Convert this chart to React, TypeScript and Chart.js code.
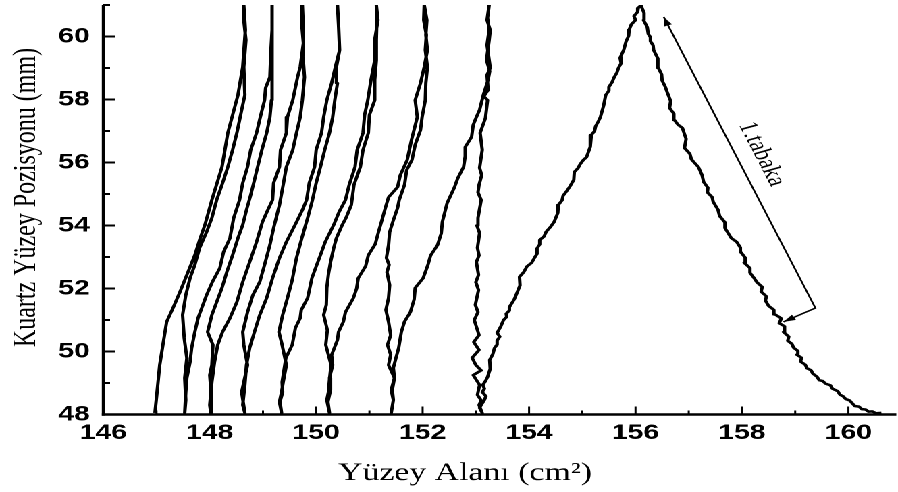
import React, { useEffect, useRef } from 'react';
import { Chart, registerables } from 'chart.js';

Chart.register(...registerables);

// ---- axis setup ----
const xTickValues = [146, 148, 150, 152, 154, 156, 158, 160];
const xMinorTicks = [147, 149, 151, 153, 155, 157, 159];
const yTickValues = [48, 50, 52, 54, 56, 58, 60];
const yMinorTicks = [49, 51, 53, 55, 57, 59, 61];
const xMin = 146;
const xMax = 160.9;
const yMin = 48;
const yMax = 61;

const xTitle = 'Yüzey Alanı (cm²)';
const yTitle = 'Kuartz Yüzey Pozisyonu (mm)';
const noteText = '1.tabaka';
// annotation anchor points, in data units (area, position)
const notePath: [number, number][] = [[156.53, 60.62], [159.38, 51.38], [158.78, 50.94]];
const noteCenter: [number, number] = [158.37, 56.27];

// ---- trace, stroke by stroke (area cm², position mm) ----
const stroke01: [number, number][] = [
  [160.62, 48.05], [160.52, 48.04], [160.45, 48.1], [160.38, 48.09], [160.32, 48.16], [160.25, 48.17],
  [160.2, 48.25], [160.12, 48.27], [160.06, 48.38], [160.02, 48.45], [159.95, 48.49], [159.9, 48.58],
  [159.84, 48.63], [159.8, 48.74], [159.7, 48.82], [159.66, 48.93], [159.57, 48.98], [159.52, 49.06],
  [159.45, 49.09], [159.41, 49.2], [159.33, 49.3], [159.3, 49.4], [159.22, 49.47], [159.19, 49.58],
  [159.1, 49.68], [159.12, 49.8], [159.03, 49.9], [159.05, 50.02], [158.97, 50.12], [158.94, 50.24],
  [158.86, 50.34], [158.88, 50.47], [158.78, 50.62], [158.8, 50.8], [158.7, 50.9], [158.74, 51.05],
  [158.62, 51.18], [158.6, 51.32], [158.5, 51.45], [158.44, 51.62], [158.46, 51.75], [158.36, 51.9],
  [158.38, 52.05], [158.28, 52.2], [158.22, 52.35], [158.15, 52.5], [158.15, 52.65], [158.04, 52.82],
  [158.06, 52.98], [157.98, 53.15], [157.97, 53.3], [157.9, 53.48], [157.8, 53.6], [157.68, 53.92],
  [157.68, 54.1], [157.58, 54.3], [157.55, 54.5], [157.46, 54.75], [157.44, 54.9], [157.35, 55.05],
  [157.36, 55.2], [157.28, 55.38], [157.25, 55.6], [157.18, 55.86], [157.13, 55.95], [157.05, 56.1],
  [157.02, 56.28], [156.92, 56.46], [156.95, 56.75], [156.88, 57.1], [156.8, 57.2], [156.73, 57.35],
  [156.72, 57.55], [156.64, 57.73], [156.66, 57.95], [156.6, 58.21], [156.56, 58.4], [156.5, 58.6],
  [156.49, 58.8], [156.43, 59.0], [156.42, 59.3], [156.34, 59.57], [156.33, 59.72], [156.28, 59.85],
  [156.28, 59.98], [156.24, 60.08], [156.22, 60.3], [156.15, 60.52], [156.16, 60.75], [156.1, 61.0],
];
const stroke02: [number, number][] = [
  [156.1, 61.0], [156.05, 60.9], [156.04, 60.78], [155.97, 60.65], [156.0, 60.52], [155.92, 60.38],
  [155.88, 60.21], [155.87, 60.02], [155.82, 59.83], [155.78, 59.58], [155.71, 59.32], [155.73, 59.15],
  [155.68, 59.0], [155.65, 58.85], [155.6, 58.71], [155.56, 58.55], [155.5, 58.4], [155.5, 58.28],
  [155.44, 58.14], [155.4, 57.8], [155.34, 57.44], [155.3, 57.3], [155.25, 57.15], [155.23, 57.0],
  [155.17, 56.87], [155.15, 56.5], [155.08, 56.17], [155.02, 56.08], [154.96, 55.95], [154.92, 55.82],
  [154.85, 55.7], [154.84, 55.45], [154.76, 55.22], [154.71, 55.1], [154.64, 54.95], [154.62, 54.8],
  [154.55, 54.65], [154.54, 54.4], [154.47, 54.11], [154.4, 53.95], [154.32, 53.8], [154.28, 53.65],
  [154.2, 53.54], [154.2, 53.4], [154.14, 53.25], [154.15, 53.1], [154.1, 52.97], [154.05, 52.82],
  [153.96, 52.7], [153.9, 52.52], [153.82, 52.37], [153.83, 52.1], [153.78, 51.89], [153.72, 51.65],
  [153.63, 51.41], [153.63, 51.3], [153.57, 51.2], [153.58, 51.1], [153.52, 51.0], [153.47, 50.8],
  [153.4, 50.59], [153.45, 50.47], [153.4, 50.35], [153.4, 50.22], [153.35, 50.11], [153.32, 49.92],
  [153.26, 49.73], [153.27, 49.45], [153.22, 49.19], [153.18, 49.06], [153.13, 48.94], [153.16, 48.82],
  [153.12, 48.71], [153.19, 48.58], [153.16, 48.46], [153.1, 48.3], [153.07, 48.21], [153.12, 48.05],
];
const stroke03: [number, number][] = [
  [153.12, 48.05], [153.06, 48.3], [153.1, 48.45], [153.03, 48.62], [153.07, 48.94], [152.95, 49.25],
  [153.1, 49.4], [153.0, 49.57], [152.93, 49.8], [153.06, 50.05], [152.96, 50.3], [153.06, 50.52],
  [152.97, 51.0], [153.04, 51.25], [152.99, 51.48], [153.05, 51.95], [153.0, 52.2], [153.05, 52.43],
  [153.01, 52.84], [153.06, 53.05], [153.03, 53.29], [153.07, 53.76], [153.02, 54.0], [153.04, 54.24],
  [153.1, 54.81], [153.04, 55.05], [153.06, 55.29], [153.11, 55.6], [153.07, 55.83], [153.12, 56.4],
  [153.08, 56.94], [153.18, 57.41], [153.22, 57.98], [153.15, 58.1], [153.23, 58.3], [153.21, 58.78],
  [153.27, 59.0], [153.25, 59.25], [153.21, 59.73], [153.25, 60.21], [153.22, 60.59], [153.25, 61.0],
];
const stroke04: [number, number][] = [
  [153.25, 61.0], [153.21, 60.52], [153.27, 60.2], [153.25, 59.89], [153.2, 59.25], [153.26, 58.9],
  [153.23, 58.62], [153.14, 58.14], [153.07, 57.67], [153.0, 57.4], [152.95, 57.19], [152.92, 56.81],
  [152.8, 56.49], [152.8, 56.2], [152.77, 55.86], [152.66, 55.5], [152.6, 55.22], [152.46, 54.71],
  [152.37, 54.11], [152.35, 53.75], [152.28, 53.38], [152.15, 53.05], [152.1, 52.75], [152.01, 52.33],
  [151.86, 52.02], [151.84, 51.65], [151.77, 51.25], [151.66, 50.95], [151.6, 50.62], [151.55, 50.11],
  [151.5, 49.8], [151.45, 49.48], [151.47, 49.16], [151.41, 48.78], [151.45, 48.46], [151.41, 48.05],
];
const stroke05: [number, number][] = [
  [151.41, 48.05], [151.45, 48.46], [151.43, 48.78], [151.47, 49.16], [151.36, 49.57], [151.4, 49.9],
  [151.34, 50.21], [151.4, 50.52], [151.36, 50.94], [151.31, 51.32], [151.36, 51.7], [151.38, 52.11],
  [151.33, 52.52], [151.37, 52.75], [151.32, 52.97], [151.36, 53.38], [151.38, 53.79], [151.45, 54.17],
  [151.53, 54.56], [151.56, 54.81], [151.66, 55.29], [151.7, 55.76], [151.8, 56.08], [151.86, 56.56],
  [151.96, 57.03], [151.99, 57.44], [152.05, 57.98], [152.06, 58.52], [152.09, 59.03], [152.05, 59.57],
  [152.07, 60.05], [152.02, 60.52], [152.03, 61.0],
];
const stroke06: [number, number][] = [
  [152.03, 61.0], [152.08, 60.52], [152.06, 60.05], [152.09, 59.57], [152.03, 59.03], [151.96, 58.52],
  [151.86, 57.98], [151.9, 57.44], [151.79, 56.71], [151.71, 56.08], [151.58, 55.6], [151.53, 55.22],
  [151.36, 54.9], [151.3, 54.56], [151.24, 54.2], [151.17, 53.79], [151.11, 53.41], [150.98, 53.06],
  [150.93, 52.71], [150.79, 52.33], [150.76, 52.0], [150.7, 51.7], [150.55, 51.25], [150.51, 50.94],
  [150.42, 50.62], [150.4, 50.37], [150.29, 49.89], [150.31, 49.57], [150.25, 49.16], [150.27, 48.78],
  [150.22, 48.4], [150.25, 48.05],
];
const stroke07: [number, number][] = [
  [150.25, 48.05], [150.2, 48.46], [150.23, 48.71], [150.25, 49.1], [150.28, 49.57], [150.18, 50.21],
  [150.21, 50.68], [150.14, 51.16], [150.19, 51.48], [150.2, 52.02], [150.23, 52.45], [150.27, 52.84],
  [150.33, 53.29], [150.38, 53.6], [150.49, 54.02], [150.56, 54.24], [150.66, 54.65], [150.71, 55.29],
  [150.83, 55.86], [150.88, 56.4], [150.98, 56.94], [151.0, 57.51], [151.1, 57.98], [151.1, 58.62],
  [151.13, 59.25], [151.13, 59.89], [151.14, 60.52], [151.13, 61.0],
];
const stroke08: [number, number][] = [
  [151.13, 61.0], [151.16, 60.52], [151.1, 59.89], [151.1, 59.25], [151.03, 58.62], [150.97, 57.98],
  [150.91, 57.51], [150.88, 56.94], [150.77, 56.4], [150.73, 55.86], [150.62, 55.29], [150.55, 54.81],
  [150.43, 54.43], [150.33, 54.02], [150.17, 53.48], [150.08, 53.06], [150.0, 52.7], [149.92, 52.33],
  [149.84, 51.7], [149.72, 51.32], [149.7, 51.06], [149.61, 50.75], [149.55, 50.21], [149.43, 49.79],
  [149.39, 49.35], [149.36, 49.03], [149.37, 48.71], [149.32, 48.4], [149.35, 48.05],
];
const stroke09: [number, number][] = [
  [149.35, 48.05], [149.31, 48.4], [149.35, 48.71], [149.38, 49.03], [149.44, 49.57], [149.36, 50.21],
  [149.3, 50.62], [149.37, 51.16], [149.46, 51.7], [149.55, 52.27], [149.63, 52.97], [149.73, 53.6],
  [149.84, 54.24], [149.93, 54.81], [150.0, 55.35], [150.08, 55.86], [150.16, 56.4], [150.25, 56.94],
  [150.31, 57.44], [150.35, 57.98], [150.4, 58.52], [150.38, 59.03], [150.44, 59.57], [150.42, 60.37],
  [150.4, 61.0],
];
const stroke10: [number, number][] = [
  [150.4, 61.0], [150.42, 60.37], [150.44, 59.57], [150.36, 59.03], [150.29, 58.52], [150.2, 57.98],
  [150.14, 57.44], [150.1, 56.94], [150.0, 56.4], [149.97, 55.86], [149.87, 55.35], [149.82, 54.81],
  [149.74, 54.49], [149.63, 54.11], [149.44, 53.48], [149.31, 52.97], [149.18, 52.33], [149.07, 51.7],
  [148.94, 51.16], [148.84, 50.62], [148.75, 50.11], [148.69, 49.57], [148.66, 48.94], [148.62, 48.3],
  [148.66, 48.05],
];
const stroke11: [number, number][] = [
  [148.66, 48.05], [148.6, 48.71], [148.71, 49.57], [148.64, 50.21], [148.62, 50.62], [148.71, 51.25],
  [148.81, 51.79], [148.94, 52.21], [149.03, 52.75], [149.13, 53.38], [149.2, 53.92], [149.31, 54.65],
  [149.38, 55.29], [149.44, 55.86], [149.56, 56.4], [149.63, 56.94], [149.7, 57.44], [149.74, 57.98],
  [149.78, 58.71], [149.75, 59.41], [149.76, 60.21], [149.74, 61.0],
];
const stroke12: [number, number][] = [
  [149.74, 61.0], [149.72, 60.37], [149.76, 59.79], [149.7, 59.03], [149.65, 58.71], [149.56, 57.98],
  [149.46, 57.44], [149.44, 56.94], [149.33, 56.4], [149.31, 55.86], [149.2, 55.35], [149.18, 54.81],
  [149.09, 54.49], [148.99, 54.11], [148.88, 53.48], [148.75, 52.84], [148.62, 52.21], [148.51, 51.57],
  [148.38, 51.06], [148.24, 50.62], [148.15, 50.21], [148.09, 49.67], [148.04, 49.03], [148.0, 48.3],
  [148.02, 48.05],
];
const stroke13: [number, number][] = [
  [148.02, 48.05], [148.03, 48.71], [148.0, 49.25], [148.04, 49.57], [148.06, 50.21], [147.96, 50.62],
  [148.04, 51.16], [148.13, 51.57], [148.23, 52.02], [148.32, 52.52], [148.43, 53.06], [148.53, 53.6],
  [148.62, 54.02], [148.69, 54.49], [148.77, 54.97], [148.84, 55.44], [148.9, 55.86], [148.98, 56.4],
  [149.07, 56.94], [149.13, 57.44], [149.16, 57.98], [149.18, 58.62], [149.18, 59.25], [149.16, 59.89],
  [149.18, 60.52], [149.16, 61.0],
];
const stroke14: [number, number][] = [
  [149.16, 61.0], [149.18, 60.21], [149.15, 59.57], [149.13, 58.71], [149.05, 58.37], [149.03, 57.98],
  [148.95, 57.44], [148.88, 56.94], [148.77, 56.4], [148.71, 55.86], [148.62, 55.35], [148.56, 54.81],
  [148.45, 54.24], [148.38, 53.6], [148.26, 53.16], [148.19, 52.65], [148.05, 52.21], [147.94, 51.79],
  [147.85, 51.38], [147.78, 51.06], [147.72, 50.62], [147.66, 50.11], [147.63, 49.67], [147.57, 49.16],
  [147.55, 48.71], [147.53, 48.05],
];
const stroke15: [number, number][] = [
  [147.53, 48.05], [147.55, 48.46], [147.53, 49.16], [147.57, 49.79], [147.52, 50.43], [147.49, 51.16],
  [147.55, 51.79], [147.63, 52.33], [147.72, 52.75], [147.81, 53.29], [147.94, 53.79], [148.04, 54.24],
  [148.13, 54.81], [148.23, 55.29], [148.34, 55.86], [148.43, 56.4], [148.51, 56.94], [148.6, 57.67],
  [148.66, 58.14], [148.64, 59.03], [148.68, 59.89], [148.64, 60.52], [148.64, 61.0],
];
const stroke16: [number, number][] = [
  [148.64, 61.0], [148.67, 60.21], [148.62, 59.03], [148.53, 58.14], [148.43, 57.51], [148.34, 56.94],
  [148.23, 55.86], [148.04, 54.81], [147.91, 54.02], [147.81, 53.54], [147.72, 53.06], [147.57, 52.43],
  [147.44, 51.89], [147.31, 51.38], [147.19, 50.94], [147.12, 50.21], [147.06, 49.57], [147.01, 48.71],
  [146.97, 48.05],
];

const strokes = [
  stroke01, stroke02, stroke03, stroke04, stroke05, stroke06, stroke07, stroke08,
  stroke09, stroke10, stroke11, stroke12, stroke13, stroke14, stroke15, stroke16,
];

// drawing is done on an unstretched canvas, then stretched horizontally
const BASE_W = 665;
const PAGE_W = 898;
const PAGE_H = 492;

function arrowHead(ctx: CanvasRenderingContext2D, tx: number, ty: number, fx: number, fy: number) {
  const a = Math.atan2(ty - fy, tx - fx);
  const len = 9;
  const half = 3;
  ctx.beginPath();
  ctx.moveTo(tx, ty);
  ctx.lineTo(tx - len * Math.cos(a) + half * Math.sin(a), ty - len * Math.sin(a) - half * Math.cos(a));
  ctx.lineTo(tx - len * Math.cos(a) - half * Math.sin(a), ty - len * Math.sin(a) + half * Math.cos(a));
  ctx.closePath();
  ctx.fill();
}

const framePlugin = {
  id: 'frameAndNotes',
  afterDraw(chart: any) {
    const { ctx, chartArea: a, scales } = chart;
    const xs = scales.x;
    const ys = scales.y;
    ctx.save();
    ctx.strokeStyle = '#000';
    ctx.fillStyle = '#000';
    ctx.lineCap = 'butt';

    // axis lines (left + bottom only)
    ctx.lineWidth = 2.2;
    ctx.beginPath();
    ctx.moveTo(a.left, a.top);
    ctx.lineTo(a.left, a.bottom + 1.2);
    ctx.stroke();
    ctx.lineWidth = 2.5;
    ctx.beginPath();
    ctx.moveTo(a.left - 1.1, a.bottom);
    ctx.lineTo(a.right, a.bottom);
    ctx.stroke();

    // inward ticks
    ctx.lineWidth = 1.5;
    [...xTickValues, ...xMinorTicks].forEach((v) => {
      const px = xs.getPixelForValue(v);
      const len = xTickValues.includes(v) ? 8 : 4;
      ctx.beginPath();
      ctx.moveTo(px, a.bottom);
      ctx.lineTo(px, a.bottom - len);
      ctx.stroke();
    });
    ctx.lineWidth = 2;
    [...yTickValues, ...yMinorTicks].forEach((v) => {
      const py = ys.getPixelForValue(v);
      const len = yTickValues.includes(v) ? 9 : 5;
      ctx.beginPath();
      ctx.moveTo(a.left, py);
      ctx.lineTo(a.left + len, py);
      ctx.stroke();
    });

    // axis titles
    ctx.textAlign = 'center';
    ctx.textBaseline = 'alphabetic';
    ctx.font = '25px "Liberation Serif", "Times New Roman", serif';
    ctx.fillText(xTitle, 344.4, 480);
    ctx.save();
    ctx.translate(25.9, 197.5);
    ctx.rotate(-Math.PI / 2);
    ctx.font = '24px "Liberation Serif", "Times New Roman", serif';
    ctx.fillText(yTitle, 0, 0);
    ctx.restore();

    // annotation arrow + label
    const pts = notePath.map(([x, y]) => [xs.getPixelForValue(x), ys.getPixelForValue(y)]);
    ctx.lineWidth = 1.4;
    ctx.beginPath();
    ctx.moveTo(pts[0][0], pts[0][1]);
    ctx.lineTo(pts[1][0], pts[1][1]);
    ctx.lineTo(pts[2][0], pts[2][1]);
    ctx.stroke();
    arrowHead(ctx, pts[0][0], pts[0][1], pts[1][0], pts[1][1]);
    arrowHead(ctx, pts[2][0], pts[2][1], pts[1][0], pts[1][1]);
    const ang = Math.atan2(pts[1][1] - pts[0][1], pts[1][0] - pts[0][0]);
    ctx.translate(xs.getPixelForValue(noteCenter[0]), ys.getPixelForValue(noteCenter[1]));
    ctx.rotate(ang);
    ctx.textAlign = 'center';
    ctx.textBaseline = 'middle';
    ctx.font = '20px "Liberation Serif", "Times New Roman", serif';
    ctx.fillText(noteText, 0, 0);
    ctx.restore();
  },
};

const tickFont = { family: '"Liberation Sans", Arial, sans-serif', size: 21, weight: 'bold' as const };

export default function App() {
  const canvasRef = useRef<HTMLCanvasElement>(null);

  useEffect(() => {
    const canvas = canvasRef.current;
    if (!canvas) return;
    const points = strokes.flat().map(([x, y]) => ({ x, y }));
    const chart = new Chart(canvas, {
      type: 'scatter',
      data: {
        datasets: [
          {
            data: points,
            showLine: true,
            borderColor: '#000',
            backgroundColor: '#000',
            borderWidth: 2.5,
            pointRadius: 0,
            pointHoverRadius: 0,
            borderJoinStyle: 'round',
            tension: 0,
          } as any,
        ],
      },
      options: {
        animation: false,
        responsive: true,
        maintainAspectRatio: false,
        devicePixelRatio: 2,
        events: [],
        layout: { padding: { left: 0, right: 0, top: 5, bottom: 0 } },
        plugins: { legend: { display: false }, tooltip: { enabled: false } },
        scales: {
          x: {
            type: 'linear',
            min: xMin,
            max: xMax,
            grid: { display: false, drawTicks: false },
            border: { display: false },
            ticks: { font: tickFont, color: '#000', padding: 6, autoSkip: false, maxRotation: 0 },
            afterBuildTicks: (s: any) => {
              s.ticks = xTickValues.map((v) => ({ value: v }));
            },
            afterFit: (s: any) => {
              s.height = PAGE_H - 414.5;
              s.paddingLeft = 0;
              s.paddingRight = 0;
            },
          },
          y: {
            type: 'linear',
            min: yMin,
            max: yMax,
            grid: { display: false, drawTicks: false },
            border: { display: false },
            ticks: { font: tickFont, color: '#000', padding: 10, autoSkip: false },
            afterBuildTicks: (s: any) => {
              s.ticks = yTickValues.map((v) => ({ value: v }));
            },
            afterFit: (s: any) => {
              s.width = 76.5;
              s.paddingTop = 0;
              s.paddingBottom = 0;
            },
          },
        },
      },
      plugins: [framePlugin],
    });
    return () => chart.destroy();
  }, []);

  return (
    <div
      style={{
        position: 'fixed',
        left: 0,
        top: 0,
        width: BASE_W,
        height: PAGE_H,
        transform: `scaleX(${PAGE_W / BASE_W})`,
        transformOrigin: '0 0',
        background: '#fff',
      }}
    >
      <canvas ref={canvasRef} />
    </div>
  );
}
